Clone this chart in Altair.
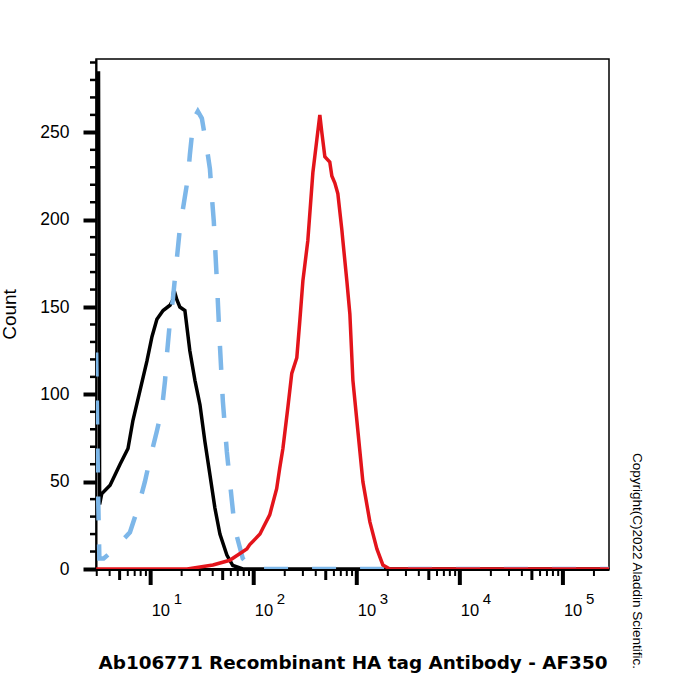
import altair as alt
import pandas as pd

W, H = 513, 510
XDOM = [2.95, 2.8e5]
YDOM = [0, 292]

# --- histogram traces (fluorescence intensity, count) ---
black_x = [2.96, 3.12, 3.2, 3.35, 4.04, 5.05, 6.03, 6.73, 7.87, 9.2, 10.3, 11.5, 13.2, 15.4, 16.4,
           16.8, 18.0, 19.2, 21.5, 24.0, 26.9, 30.1, 33.6, 37.6, 42.0, 47.0, 54.9, 62.7, 78.4, 280000]
black_y = [284, 284, 37, 43, 48, 60, 69, 85, 102, 119, 133, 143, 148, 151, 154,
           160, 154, 150, 148, 125, 108, 94, 73, 54, 35, 20, 8, 2, 0, 0]

blue_x = [2.96, 3.1, 3.18, 3.5, 4.2, 6.3, 7.53, 8.8, 9.85, 11.5, 12.9, 13.8, 14.4, 15.4, 16.4,
          19.2, 23.0, 24.0, 25.7, 26.9, 28.7, 31.4, 35.1, 37.6, 39.3, 41.0, 43.9, 47.0, 50.2, 54.9,
          61.4, 65.6, 78.4, 98, 280000]
blue_y = [124, 40, 6, 6, 10, 21, 35, 50, 63, 79, 92, 108, 123, 142, 154,
          195, 224, 237, 254, 259, 262, 258, 241, 229, 213, 199, 165, 128, 96, 67,
          39, 23, 6, 0, 0]

red_x = [2.96, 22.6, 40.2, 58.6, 85.7, 91.6, 115, 122, 143, 167, 179, 192, 214, 234, 262,
         280, 300, 335, 375, 410, 438, 458, 490, 547, 573, 613, 655, 717, 733, 801,
         857, 917, 1025, 1146, 1340, 1567, 1791, 2094, 280000]
red_y = [0, 0, 2.3, 5, 11.5, 14, 20, 23, 31, 46, 58, 69, 92, 112, 121,
         142, 165, 188, 227, 246, 260, 250, 236, 233, 225, 221, 215, 194, 188, 165,
         146, 108, 79, 50, 27, 11.5, 2.3, 0, 0]

# --- axis ticks / labels ---
x_major = [10, 100, 1000, 10000, 100000]
x_exp = ["1", "2", "3", "4", "5"]
x_mid = [5, 50, 500, 5000, 50000]
x_minor = [m * 10 ** e for e in range(0, 6) for m in (2, 3, 4, 6, 7, 8, 9)
           if XDOM[0] <= m * 10 ** e <= XDOM[1]]
y_major = [0, 50, 100, 150, 200, 250]
y_minor = [v for v in range(10, 300, 10) if v % 50 != 0]

x_title = "Ab106771 Recombinant HA tag Antibody - AF350"
y_title = "Count"
copyright_text = "Copyright(C)2022 Aladdin Scientific."

xscale = alt.Scale(type="log", domain=XDOM, nice=False)
yscale = alt.Scale(domain=YDOM, nice=False, zero=True)

x_axis = alt.Axis(labels=False, ticks=False, grid=False, domainWidth=3, domainColor="black",
                  title=x_title, titleFont="DejaVu Sans", titleFontSize=18.4, titleFontWeight="bold",
                  titleColor="black", titleY=99, titleBaseline="alphabetic")
y_axis = alt.Axis(values=y_major, tickSize=13, tickWidth=4, tickColor="black", grid=False,
                  domainWidth=2, domainColor="black", labelFont="Liberation Sans",
                  labelFontSize=17.5, labelColor="black", labelPadding=14,
                  title=y_title, titleFont="Liberation Sans", titleFontSize=19,
                  titleFontWeight="normal", titleColor="black", titleX=-81, titleY=H / 2,
                  titleBaseline="alphabetic", titleAngle=270)

def X(field):
    return alt.X(field, scale=xscale, axis=x_axis, title=x_title)

def Y(field):
    return alt.Y(field, scale=yscale, axis=y_axis, title=y_title)

def trace(xs, ys):
    return pd.DataFrame({"x": xs, "y": ys})

black = alt.Chart(trace(black_x, black_y)).mark_line(
    color="black", strokeWidth=3.5, clip=True).encode(
    x=X("x:Q"), y=Y("y:Q"), order="x:Q")

blue = alt.Chart(trace(blue_x, blue_y)).mark_line(
    color="#7DB7E9", strokeWidth=4.5, strokeDash=[24, 24], strokeCap="butt", clip=True).encode(
    x=X("x:Q"), y=Y("y:Q"), order="x:Q")

red = alt.Chart(trace(red_x, red_y)).mark_line(
    color="#E3141B", strokeWidth=3.5, clip=True).encode(
    x=X("x:Q"), y=Y("y:Q"), order="x:Q")

def xticks(vals, length, width):
    return alt.Chart(pd.DataFrame({"x": vals})).mark_rule(
        color="black", strokeWidth=width).encode(
        x=X("x:Q"), y=alt.value(H), y2=alt.value(H + length))

tick_major = xticks(x_major, 16, 4)
tick_mid = xticks(x_mid, 11, 3)
tick_minor = xticks(x_minor, 7, 2)

ytick_minor = alt.Chart(pd.DataFrame({"y": y_minor})).mark_rule(
    color="black", strokeWidth=2.5).encode(
    y=Y("y:Q"), x=alt.value(-6), x2=alt.value(0))

lab_df = pd.DataFrame({"x": x_major, "e": x_exp})
tens = alt.Chart(lab_df).mark_text(
    align="left", baseline="alphabetic", dx=1, font="Liberation Sans", fontSize=16.5,
    color="black").encode(
    x=X("x:Q"), y=alt.value(H + 47), text=alt.value("10"))
exps = alt.Chart(lab_df).mark_text(
    align="left", baseline="alphabetic", dx=23, font="Liberation Sans", fontSize=15,
    color="black").encode(
    x=X("x:Q"), y=alt.value(H + 35), text="e:N")

copyright_mark = alt.Chart(pd.DataFrame({"t": [copyright_text]})).mark_text(
    angle=90, align="center", baseline="middle", font="Liberation Sans", fontSize=13.5,
    color="black").encode(
    x=alt.value(541), y=alt.value(502), text="t:N")

chart = alt.layer(
    black, blue, red, tick_minor, tick_mid, tick_major, ytick_minor, tens, exps, copyright_mark
).properties(
    width=W, height=H,
    autosize=alt.AutoSizeParams(type="none"),
    padding={"left": 96, "top": 59, "right": 700 - 96 - W, "bottom": 700 - 59 - H},
    background="white",
).configure_view(stroke="black", strokeWidth=1.5)

chart.save("out.html", embed_options={"renderer": "svg", "actions": False})
